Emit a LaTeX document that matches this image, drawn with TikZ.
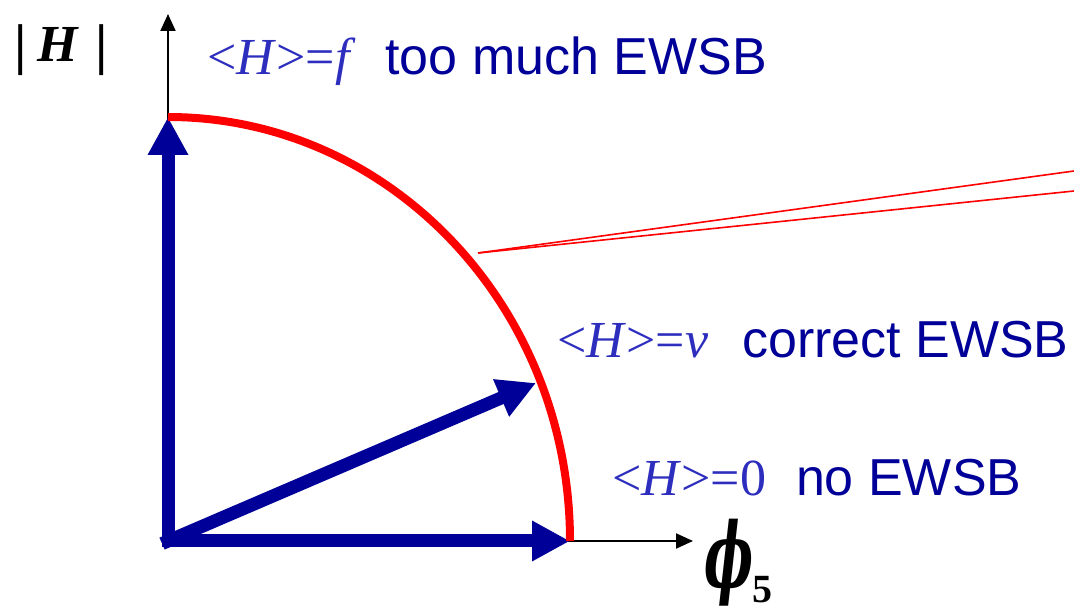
\documentclass[tikz,border=0pt]{standalone}
\usepackage{fontspec}
\setmainfont{Liberation Serif}
\setsansfont{Liberation Sans}
\newfontfamily\phifont{DejaVu Serif}
\usetikzlibrary{arrows.meta}
\definecolor{navy}{RGB}{0,0,153}
\definecolor{mblue}{RGB}{45,45,190}
\definecolor{pred}{RGB}{255,0,0}
\tikzset{
  axisline/.style={line width=2pt, black, -{Triangle[length=17pt,width=15pt]}},
  bluevec/.style={line width=13pt, navy, line cap=rect, -{Triangle[length=38pt,width=38pt]}},
  redarc/.style={line width=8pt, pred},
  callout/.style={line width=1.6pt, pred},
  lbl/.style={anchor=base west, inner sep=0pt, font=\fontsize{52}{60}\selectfont},
  barlbl/.style={inner sep=0pt, font=\fontsize{56}{60}\selectfont\bfseries},
}
\begin{document}
\begin{tikzpicture}[x=1pt,y=1pt]
\useasboundingbox (0,0) rectangle (1074,608);
% points
\coordinate (O) at (168,67);
\coordinate (ytip) at (168,594);
\coordinate (xtip) at (693,67);
\coordinate (Htop) at (168,491);
\coordinate (Hright) at (570,67);
\coordinate (Hv) at (536,225);
\coordinate (cstart) at (478,355);
\coordinate (c1) at (1074,437);
\coordinate (c2) at (1074,417);
% axes
\draw[axisline] (O) -- (ytip);
\draw[axisline] (O) -- (xtip);
% blue vectors
\draw[bluevec] (O) -- (Htop);
\draw[bluevec] (O) -- (Hright);
\draw[bluevec] (O) -- (Hv);
% red arc
\draw[redarc] (Hright) arc[start angle=0, end angle=90, x radius=402, y radius=424];
% callout lines
\draw[callout] (cstart) -- (c1);
\draw[callout] (cstart) -- (c2);
% labels
\node[lbl] (t1) at (207,533) {\textcolor{mblue}{<\textit{H}>=\textit{f}}\hspace{30pt}\textcolor{navy}{\sffamily too much EWSB}};
\node[lbl] (t2) at (557,250) {\textcolor{mblue}{<\textit{H}>=\textit{v}}\hspace{34pt}\textcolor{navy}{\sffamily correct EWSB}};
\node[lbl] (t3) at (612,112) {\textcolor{mblue}{<\textit{H}>=0}\hspace{30pt}\textcolor{navy}{\sffamily no EWSB}};
% |H| label
\node[anchor=base west, inner sep=0pt, font=\fontsize{52}{60}\selectfont\bfseries\itshape] (Hh) at (37,546) {H};
\node[barlbl] (b1) at (20.5,558) {|};
\node[barlbl] (b2) at (102,558) {|};
% phi_5
\node[anchor=south west, inner sep=0pt, font=\phifont\bfseries\itshape\fontsize{90}{96}\selectfont] (phi) at (704,2) {\scalebox{0.58}[1]{ϕ}};
\node[anchor=south west, inner sep=0pt, font=\bfseries\fontsize{40}{44}\selectfont] (sub) at (752,5) {5};
\end{tikzpicture}
\end{document}
